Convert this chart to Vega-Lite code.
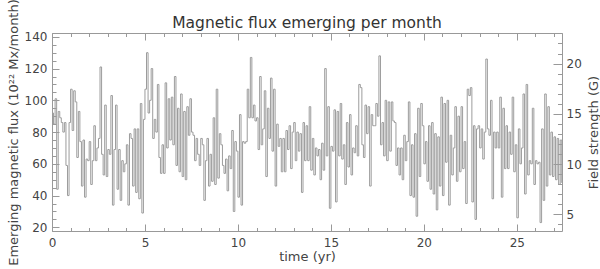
{
"$schema": "https://vega.github.io/schema/vega-lite/v6.json",
"width": 510, "height": 198,
"autosize": {"type": "none"},
"padding": {"left": 52, "top": 33, "right": 38, "bottom": 38},
"background": "white",
"title": {"text": "Magnetic flux emerging per month", "fontSize": 15.5, "font": "DejaVu Sans", "fontWeight": "normal", "color": "#333", "offset": -45, "baseline": "alphabetic", "frame": "group"},
"config": {"view": {"stroke": null}, "axis": {"domainColor": "#999", "tickColor": "#999", "labelColor": "#444", "titleColor": "#444", "labelFont": "DejaVu Sans", "titleFont": "DejaVu Sans", "labelFontSize": 12, "titleFontSize": 13, "titleFontWeight": "normal", "grid": false, "labelFlush": false}},
"data": {"values": [
{"t":0,"f":92},{"t":0.083,"f":85},{"t":0.167,"f":101},{"t":0.25,"f":44},{"t":0.333,"f":93},{"t":0.417,"f":89},{"t":0.5,"f":86},{"t":0.583,"f":80},{"t":0.667,"f":86},{"t":0.75,"f":59},{"t":0.833,"f":40},{"t":0.917,"f":86},
{"t":1,"f":107},{"t":1.083,"f":81},{"t":1.167,"f":106},{"t":1.25,"f":99},{"t":1.333,"f":64},{"t":1.417,"f":93},{"t":1.5,"f":74},{"t":1.583,"f":46},{"t":1.667,"f":75},{"t":1.75,"f":39},{"t":1.833,"f":63},{"t":1.917,"f":62},
{"t":2,"f":74},{"t":2.083,"f":47},{"t":2.167,"f":62},{"t":2.25,"f":84},{"t":2.333,"f":62},{"t":2.417,"f":70},{"t":2.5,"f":76},{"t":2.583,"f":121},{"t":2.667,"f":66},{"t":2.75,"f":53},{"t":2.833,"f":97},{"t":2.917,"f":52},
{"t":3,"f":69},{"t":3.083,"f":66},{"t":3.167,"f":103},{"t":3.25,"f":34},{"t":3.333,"f":69},{"t":3.417,"f":97},{"t":3.5,"f":44},{"t":3.583,"f":69},{"t":3.667,"f":37},{"t":3.75,"f":62},{"t":3.833,"f":55},{"t":3.917,"f":60},
{"t":4,"f":72},{"t":4.083,"f":34},{"t":4.167,"f":79},{"t":4.25,"f":76},{"t":4.333,"f":46},{"t":4.417,"f":82},{"t":4.5,"f":42},{"t":4.583,"f":82},{"t":4.667,"f":38},{"t":4.75,"f":98},{"t":4.833,"f":29},{"t":4.917,"f":88},
{"t":5,"f":107},{"t":5.083,"f":130},{"t":5.167,"f":92},{"t":5.25,"f":100},{"t":5.333,"f":120},{"t":5.417,"f":76},{"t":5.5,"f":88},{"t":5.583,"f":80},{"t":5.667,"f":110},{"t":5.75,"f":64},{"t":5.833,"f":54},{"t":5.917,"f":72},
{"t":6,"f":54},{"t":6.083,"f":111},{"t":6.167,"f":70},{"t":6.25,"f":101},{"t":6.333,"f":75},{"t":6.417,"f":102},{"t":6.5,"f":72},{"t":6.583,"f":115},{"t":6.667,"f":59},{"t":6.75,"f":95},{"t":6.833,"f":55},{"t":6.917,"f":104},
{"t":7,"f":52},{"t":7.083,"f":93},{"t":7.167,"f":50},{"t":7.25,"f":96},{"t":7.333,"f":78},{"t":7.417,"f":101},{"t":7.5,"f":80},{"t":7.583,"f":78},{"t":7.667,"f":62},{"t":7.75,"f":76},{"t":7.833,"f":66},{"t":7.917,"f":59},
{"t":8,"f":76},{"t":8.083,"f":72},{"t":8.167,"f":37},{"t":8.25,"f":62},{"t":8.333,"f":76},{"t":8.417,"f":46},{"t":8.5,"f":66},{"t":8.583,"f":49},{"t":8.667,"f":89},{"t":8.75,"f":47},{"t":8.833,"f":107},{"t":8.917,"f":51},
{"t":9,"f":79},{"t":9.083,"f":72},{"t":9.167,"f":59},{"t":9.25,"f":54},{"t":9.333,"f":63},{"t":9.417,"f":43},{"t":9.5,"f":65},{"t":9.583,"f":57},{"t":9.667,"f":81},{"t":9.75,"f":30},{"t":9.833,"f":74},{"t":9.917,"f":68},
{"t":10,"f":39},{"t":10.083,"f":91},{"t":10.167,"f":34},{"t":10.25,"f":74},{"t":10.333,"f":73},{"t":10.417,"f":74},{"t":10.5,"f":107},{"t":10.583,"f":89},{"t":10.667,"f":127},{"t":10.75,"f":89},{"t":10.833,"f":97},{"t":10.917,"f":87},
{"t":11,"f":89},{"t":11.083,"f":69},{"t":11.167,"f":115},{"t":11.25,"f":72},{"t":11.333,"f":82},{"t":11.417,"f":106},{"t":11.5,"f":52},{"t":11.583,"f":95},{"t":11.667,"f":76},{"t":11.75,"f":114},{"t":11.833,"f":68},{"t":11.917,"f":107},
{"t":12,"f":46},{"t":12.083,"f":85},{"t":12.167,"f":71},{"t":12.25,"f":76},{"t":12.333,"f":55},{"t":12.417,"f":76},{"t":12.5,"f":55},{"t":12.583,"f":81},{"t":12.667,"f":69},{"t":12.75,"f":84},{"t":12.833,"f":57},{"t":12.917,"f":80},
{"t":13,"f":86},{"t":13.083,"f":62},{"t":13.167,"f":80},{"t":13.25,"f":68},{"t":13.333,"f":79},{"t":13.417,"f":42},{"t":13.5,"f":86},{"t":13.583,"f":62},{"t":13.667,"f":84},{"t":13.75,"f":62},{"t":13.833,"f":96},{"t":13.917,"f":56},
{"t":14,"f":76},{"t":14.083,"f":53},{"t":14.167,"f":70},{"t":14.25,"f":65},{"t":14.333,"f":69},{"t":14.417,"f":50},{"t":14.5,"f":73},{"t":14.583,"f":56},{"t":14.667,"f":120},{"t":14.75,"f":65},{"t":14.833,"f":96},{"t":14.917,"f":32},
{"t":15,"f":71},{"t":15.083,"f":68},{"t":15.167,"f":94},{"t":15.25,"f":36},{"t":15.333,"f":93},{"t":15.417,"f":65},{"t":15.5,"f":98},{"t":15.583,"f":63},{"t":15.667,"f":72},{"t":15.75,"f":47},{"t":15.833,"f":86},{"t":15.917,"f":58},
{"t":16,"f":91},{"t":16.083,"f":53},{"t":16.167,"f":70},{"t":16.25,"f":67},{"t":16.333,"f":84},{"t":16.417,"f":65},{"t":16.5,"f":110},{"t":16.583,"f":108},{"t":16.667,"f":72},{"t":16.75,"f":64},{"t":16.833,"f":97},{"t":16.917,"f":79},
{"t":17,"f":96},{"t":17.083,"f":46},{"t":17.167,"f":91},{"t":17.25,"f":84},{"t":17.333,"f":84},{"t":17.417,"f":98},{"t":17.5,"f":90},{"t":17.583,"f":128},{"t":17.667,"f":72},{"t":17.75,"f":86},{"t":17.833,"f":65},{"t":17.917,"f":100},
{"t":18,"f":62},{"t":18.083,"f":99},{"t":18.167,"f":68},{"t":18.25,"f":99},{"t":18.333,"f":87},{"t":18.417,"f":86},{"t":18.5,"f":59},{"t":18.583,"f":70},{"t":18.667,"f":53},{"t":18.75,"f":70},{"t":18.833,"f":50},{"t":18.917,"f":78},
{"t":19,"f":62},{"t":19.083,"f":74},{"t":19.167,"f":99},{"t":19.25,"f":40},{"t":19.333,"f":72},{"t":19.417,"f":39},{"t":19.5,"f":79},{"t":19.583,"f":27},{"t":19.667,"f":95},{"t":19.75,"f":52},{"t":19.833,"f":98},{"t":19.917,"f":84},
{"t":20,"f":60},{"t":20.083,"f":74},{"t":20.167,"f":49},{"t":20.25,"f":84},{"t":20.333,"f":44},{"t":20.417,"f":86},{"t":20.5,"f":41},{"t":20.583,"f":79},{"t":20.667,"f":31},{"t":20.75,"f":77},{"t":20.833,"f":46},{"t":20.917,"f":102},
{"t":21,"f":40},{"t":21.083,"f":98},{"t":21.167,"f":61},{"t":21.25,"f":100},{"t":21.333,"f":34},{"t":21.417,"f":78},{"t":21.5,"f":53},{"t":21.583,"f":70},{"t":21.667,"f":96},{"t":21.75,"f":49},{"t":21.833,"f":90},{"t":21.917,"f":55},
{"t":22,"f":96},{"t":22.083,"f":57},{"t":22.167,"f":74},{"t":22.25,"f":35},{"t":22.333,"f":107},{"t":22.417,"f":103},{"t":22.5,"f":108},{"t":22.583,"f":36},{"t":22.667,"f":84},{"t":22.75,"f":25},{"t":22.833,"f":82},{"t":22.917,"f":84},
{"t":23,"f":70},{"t":23.083,"f":82},{"t":23.167,"f":63},{"t":23.25,"f":80},{"t":23.333,"f":126},{"t":23.417,"f":82},{"t":23.5,"f":78},{"t":23.583,"f":100},{"t":23.667,"f":38},{"t":23.75,"f":80},{"t":23.833,"f":70},{"t":23.917,"f":80},
{"t":24,"f":70},{"t":24.083,"f":102},{"t":24.167,"f":39},{"t":24.25,"f":95},{"t":24.333,"f":57},{"t":24.417,"f":84},{"t":24.5,"f":57},{"t":24.583,"f":80},{"t":24.667,"f":66},{"t":24.75,"f":102},{"t":24.833,"f":55},{"t":24.917,"f":72},
{"t":25,"f":26},{"t":25.083,"f":82},{"t":25.167,"f":60},{"t":25.25,"f":70},{"t":25.333,"f":104},{"t":25.417,"f":41},{"t":25.5,"f":110},{"t":25.583,"f":53},{"t":25.667,"f":62},{"t":25.75,"f":60},{"t":25.833,"f":95},{"t":25.917,"f":47},
{"t":26,"f":62},{"t":26.083,"f":60},{"t":26.167,"f":61},{"t":26.25,"f":23},{"t":26.333,"f":82},{"t":26.417,"f":37},{"t":26.5,"f":104},{"t":26.583,"f":46},{"t":26.667,"f":96},{"t":26.75,"f":53},{"t":26.833,"f":80},{"t":26.917,"f":52},
{"t":27,"f":77},{"t":27.083,"f":50},{"t":27.167,"f":76},{"t":27.25,"f":47},{"t":27.333,"f":75},{"t":27.417,"f":48}
]},
"layer": [
{"mark": {"type": "line", "interpolate": "step-after", "color": "#9c9c9c", "strokeWidth": 1},
 "encoding": {
  "x": {"field": "t", "type": "quantitative", "scale": {"domain": [0, 27.43], "nice": false, "zero": false},
        "axis": {"orient": "bottom", "values": [0,5,10,15,20,25], "tickSize": -7, "labelPadding": 13, "title": "time (yr)", "titlePadding": 2}},
  "y": {"field": "f", "type": "quantitative", "scale": {"domain": [17.7, 142.4], "nice": false, "zero": false},
        "axis": {"orient": "left", "values": [20,40,60,80,100,120,140], "tickSize": -7, "labelPadding": 12, "title": "Emerging magnetic flux (10²² Mx/month)", "titlePadding": 4}}
 }},
{"mark": {"type": "point", "opacity": 0},
 "encoding": {
  "x": {"field": "t", "type": "quantitative", "scale": {"domain": [0, 27.43], "nice": false, "zero": false},
        "axis": {"orient": "bottom", "values": [0,1,2,3,4,5,6,7,8,9,10,11,12,13,14,15,16,17,18,19,20,21,22,23,24,25,26,27], "tickSize": -3.5, "labels": false, "domain": false, "title": null}},
  "y": {"field": "f", "type": "quantitative", "scale": {"domain": [17.7, 142.4], "nice": false, "zero": false},
        "axis": {"orient": "left", "values": [20,25,30,35,40,45,50,55,60,65,70,75,80,85,90,95,100,105,110,115,120,125,130,135,140], "tickSize": -4, "labels": false, "domain": false, "title": null}}
 }},
{"mark": {"type": "point", "opacity": 0},
 "encoding": {
  "x": {"field": "t", "type": "quantitative", "scale": {"domain": [0, 27.43], "nice": false, "zero": false},
        "axis": {"orient": "top", "values": [0,5,10,15,20,25], "tickSize": -7, "labels": false, "title": null}},
  "y": {"field": "f", "type": "quantitative", "scale": {"domain": [17.7, 142.4], "nice": false, "zero": false}, "axis": null}
 }},
{"mark": {"type": "point", "opacity": 0},
 "encoding": {
  "x": {"field": "t", "type": "quantitative", "scale": {"domain": [0, 27.43], "nice": false, "zero": false},
        "axis": {"orient": "top", "values": [0,1,2,3,4,5,6,7,8,9,10,11,12,13,14,15,16,17,18,19,20,21,22,23,24,25,26,27], "tickSize": -3.5, "labels": false, "domain": false, "title": null}},
  "y": {"datum": 10, "type": "quantitative", "scale": {"domain": [3.34, 23.04], "nice": false, "zero": false},
        "axis": {"orient": "right", "values": [5,10,15,20], "tickSize": -9, "labelPadding": 13, "title": "Field strength (G)", "titleAngle": 270, "titlePadding": 19}}
 }},
{"mark": {"type": "point", "opacity": 0},
 "encoding": {
  "x": {"field": "t", "type": "quantitative", "scale": {"domain": [0, 27.43], "nice": false, "zero": false}, "axis": null},
  "y": {"datum": 10, "type": "quantitative", "scale": {"domain": [3.34, 23.04], "nice": false, "zero": false},
        "axis": {"orient": "right", "values": [4,5,6,7,8,9,10,11,12,13,14,15,16,17,18,19,20,21,22,23], "tickSize": -4.5, "labels": false, "domain": false, "title": null}}
 }}
],
"resolve": {"scale": {"y": "independent"}, "axis": {"x": "independent", "y": "independent"}}
}
